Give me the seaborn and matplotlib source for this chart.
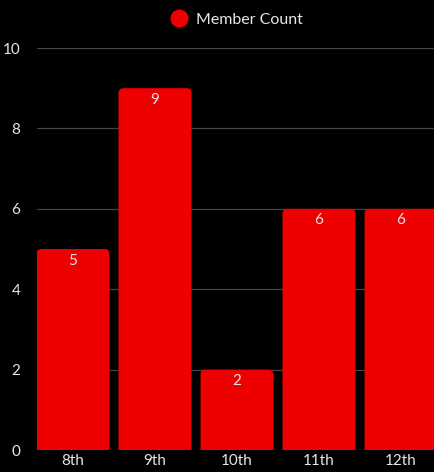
import matplotlib
matplotlib.use("Agg")
import matplotlib.pyplot as plt
from matplotlib.patches import FancyBboxPatch
from matplotlib.lines import Line2D
import seaborn as sns
import pandas as pd

grades = ["8th", "9th", "10th", "11th", "12th"]
member_count = [5, 9, 2, 6, 6]
y_ticks = [0, 2, 4, 6, 8, 10]

RED = "#ee0000"
TXT = "#e6e6e6"

sns.set_theme(style="dark")
plt.rcParams["font.family"] = ["Lato", "DejaVu Sans"]

df = pd.DataFrame({"grade": grades, "count": member_count})

fig = plt.figure(figsize=(4.35, 4.72), dpi=100, facecolor="black")
ax = fig.add_axes([37 / 435, 22 / 472, 398 / 435, 402 / 472])
ax.set_facecolor("black")

sns.barplot(data=df, x="grade", y="count", color=RED, width=0.89,
            saturation=1, ax=ax, zorder=3)

ax.set_xlim(-36 / 82, -36 / 82 + 398 / 82)
ax.set_ylim(0, 10)

# swap the plain rectangles for ones with rounded tops
aspect = 82 / (402 / 10)
for p in list(ax.patches):
    x, y0 = p.get_x(), p.get_y()
    w, h = p.get_width(), p.get_height()
    rb = FancyBboxPatch((x, y0 - 0.3), w, h + 0.3,
                        boxstyle="round,pad=0,rounding_size=0.06",
                        mutation_aspect=aspect, fc=RED, ec="none",
                        zorder=3, clip_on=True)
    p.remove()
    ax.add_patch(rb)
    ax.text(x + w / 2, h - 0.29, f"{h:g}", ha="center", va="center",
            color=TXT, fontsize=11, zorder=4)

ax.set_yticks(y_ticks)
ax.grid(axis="y", color="#444444", lw=0.9, zorder=0)
ax.grid(axis="x", visible=False)
for s in ax.spines.values():
    s.set_visible(False)
ax.set_xlabel("")
ax.set_ylabel("")
ax.tick_params(axis="both", colors=TXT, labelsize=11, length=0)
ax.tick_params(axis="y", pad=12)
ax.tick_params(axis="x", pad=3)

handle = Line2D([], [], marker="o", ls="", color=RED, markersize=12)
leg = fig.legend([handle], ["Member Count"], loc="center",
                 bbox_to_anchor=(233 / 435, 1 - 20 / 472), frameon=False,
                 fontsize=11.5, handletextpad=0.1, labelcolor=TXT)

fig.savefig("out.png", dpi=100, facecolor="black")
